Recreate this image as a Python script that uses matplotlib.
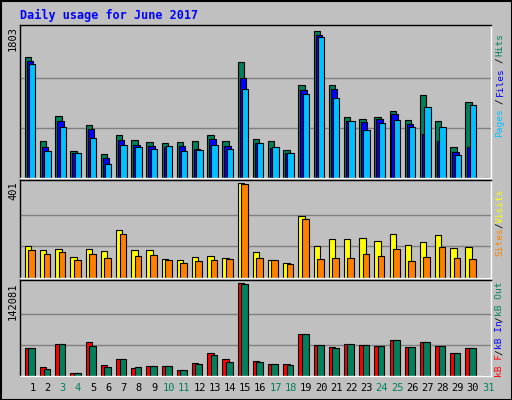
import matplotlib
matplotlib.use("Agg")
import matplotlib.pyplot as plt
import numpy as np

days = list(range(1, 32))
weekend = [3, 4, 10, 11, 17, 18, 24, 25, 31]
hits = [1456,449,749,327,639,291,519,459,435,423,435,449,519,449,1397,471,449,339,1120,1769,1120,735,711,735,807,699,998,687,375,915,0]
files = [1408,375,687,303,591,243,459,399,387,375,387,351,471,387,1204,423,363,303,1060,1721,1072,687,675,711,771,651,531,447,315,375,0]
pages = [1372,327,615,303,483,170,399,375,351,387,327,339,399,351,1072,423,375,303,1012,1697,963,687,579,663,699,615,855,615,279,878,0]
visits = [135,118,122,87,122,113,201,118,118,78,74,87,92,83,401,109,74,65,262,135,166,166,170,157,187,139,153,183,126,131,0]
sites = [118,100,109,74,100,83,187,92,96,74,65,70,74,78,397,83,74,61,248,78,83,83,100,92,122,70,87,131,83,78,0]
kb_f = [42152,14051,48397,4684,51520,17173,26540,12490,15612,15612,9367,20296,35387,26540,142069,23418,18734,18734,64010,46836,43714,48397,46836,45275,54642,43714,51520,45275,35387,42152,0]
kb_out = [42152,10929,48397,4684,45275,14051,26540,14051,15612,15612,9367,18734,32264,21857,140508,21857,18734,17173,64010,46836,42152,48397,46836,45275,54642,43714,51520,45275,35387,42152,0]
max_hits, max_visits, max_kb = 1803, 401, 142081

W, H = 512, 400
fig = plt.figure(figsize=(W/100, H/100), dpi=100)
fig.patch.set_facecolor("#C0C0C0")
BG = "#C0C0C0"
mono = "DejaVu Sans Mono"

def axes(top, bottom):
    ax = fig.add_axes([20/W, 1-bottom/H, 471/W, (bottom-top)/H])
    ax.set_facecolor(BG)
    ax.set_xlim(0.3, 31.3)
    ax.set_xticks([]); ax.set_yticks([])
    for s in ax.spines.values():
        s.set_color("black"); s.set_linewidth(1)
    ax.spines["bottom"].set_color("white"); ax.spines["right"].set_color("white")
    return ax

d = np.array(days)
ax1 = axes(25, 178)
ax1.set_ylim(0, max_hits*1.02)
for g in (1/3, 2/3):
    ax1.axhline(max_hits*g, color="#808080", lw=1, zorder=0)
ax1.bar(d-0.38, hits, 0.42, align="edge", color="#00805c", edgecolor="black", lw=0.8)
ax1.bar(d-0.25, files, 0.42, align="edge", color="#0000ff", edgecolor="black", lw=0.8)
ax1.bar(d-0.1, pages, 0.42, align="edge", color="#00c0ff", edgecolor="black", lw=0.8)

ax2 = axes(180, 278)
ax2.set_ylim(0, max_visits*1.03)
for g in (1/3, 2/3):
    ax2.axhline(max_visits*g, color="#808080", lw=1, zorder=0)
ax2.bar(d-0.38, visits, 0.42, align="edge", color="#ffff00", edgecolor="black", lw=0.8)
ax2.bar(d-0.15, sites, 0.44, align="edge", color="#ff8000", edgecolor="black", lw=0.8)

ax3 = axes(280, 376)
ax3.set_ylim(0, max_kb*1.03)
for g in (1/3, 2/3):
    ax3.axhline(max_kb*g, color="#808080", lw=1, zorder=0)
ax3.bar(d-0.38, kb_f, 0.42, align="edge", color="#ff0000", edgecolor="black", lw=0.8)
ax3.bar(d-0.15, kb_out, 0.44, align="edge", color="#00805c", edgecolor="black", lw=0.8)

for day in days:
    ax3.text(day+0.12, -0.13, str(day), transform=ax3.get_xaxis_transform(),
             ha="center", va="center", fontsize=7.5, family=mono,
             color="#00805c" if day in weekend else "black")

def px(x, y): return x/W, 1-y/H
fig.text(*px(20, 15), "Daily usage for June 2017", color="#0000ff", fontsize=8.5,
         family=mono, weight="bold", ha="left", va="center")
for y, lab in ((26, str(max_hits)), (181, str(max_visits)), (283, str(max_kb))):
    fig.text(*px(13, y), lab, rotation=90, ha="center", va="top", fontsize=7.5, family=mono)

def side(parts, ybottom, step=5.4):
    y = ybottom
    for txt, col in parts:
        fig.text(*px(500, y), txt, rotation=90, ha="center", va="bottom", color=col,
                 fontsize=6.8, family=mono)
        y -= step*len(txt) + 0.5
side([("Pages", "#00c0ff"), ("/", "black"), ("Files", "#0000ff"), ("/", "black"), ("Hits", "#00805c")], 137, 6.6)
side([("Sites", "#ff8000"), ("/", "black"), ("Visits", "#ffff00")], 256)
side([("kB F", "#ff0000"), ("/", "black"), ("kB In", "#0000ff"), ("/", "black"), ("kB Out", "#00805c")], 377)

fig.add_artist(plt.Rectangle((0.5/W, 0.5/H), 1-1/W, 1-1/H, transform=fig.transFigure,
                             fill=False, edgecolor="black", lw=1.5))
fig.savefig("out.png", dpi=100, facecolor=fig.get_facecolor())
